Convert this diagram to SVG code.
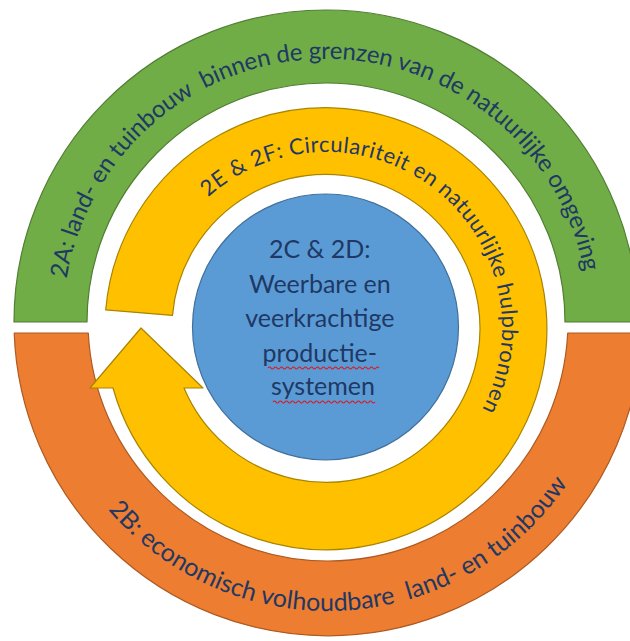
<svg xmlns="http://www.w3.org/2000/svg" width="630" height="641" viewBox="0 0 630 641">
<style>
.lbl{font-family:Lato,"Open Sans","Liberation Sans",sans-serif;fill:#1F3864;}
.ring{stroke-width:1.2;stroke-linejoin:round;}
.squig{fill:none;stroke:#E0191D;stroke-width:1.2;}
</style>
<defs>
<path id="pGreen" d="M66.6,278.6 A263,263 0 0 1 584.2,271.8"/>
<path id="pOrange" d="M108.2,509.7 A289,289 0 0 0 567.6,483.6"/>
<path id="pYellow" d="M208.2,197.2 A176,176 0 0 1 482.1,409.3"/>
</defs>
<rect width="630" height="641" fill="#FFFFFF"/>
<g id="ring-2A">
<path class="ring" d="M14,322 A312,312 0 0 1 638,322 L565,322 A239,239 0 0 0 87,322 Z" fill="#70AD47" stroke="#507E32"/>
<text class="lbl" font-size="24" xml:space="preserve"><textPath href="#pGreen" textLength="732" lengthAdjust="spacing">2A: land- en tuinbouw  binnen de grenzen van de natuurlijke omgeving</textPath></text>
</g>
<g id="ring-2B">
<path class="ring" d="M14.2,333 L88.3,333 A240,240 0 0 0 567.7,333 L641.8,333 A314,314 0 0 1 14.2,333 Z" fill="#ED7D31" stroke="#AE5A21"/>
<text class="lbl" font-size="25" xml:space="preserve"><textPath href="#pOrange" textLength="532" lengthAdjust="spacing">2B: economisch volhoudbare  land- en tuinbouw</textPath></text>
</g>
<g id="arrow-2E2F">
<path class="ring" d="M105.7,309.9 A221,221 0 1 1 113,388 L90,388 L141,328 L203,388 L184,388 A154,154 0 1 0 172.5,315.4 Z" fill="#FFC000" stroke="#A88400"/>
<text class="lbl" font-size="22"><textPath href="#pYellow" textLength="490" lengthAdjust="spacing">2E &amp; 2F: Circulariteit en natuurlijke hulpbronnen</textPath></text>
</g>
<g id="core-2C2D">
<circle cx="325.5" cy="327" r="133" fill="#5B9BD5" stroke="#41719C" stroke-width="1.2"/>
<text class="lbl" font-size="25" text-anchor="middle">
<tspan x="323" y="258">2C &amp; 2D:</tspan>
<tspan x="323" y="293">Weerbare en</tspan>
<tspan x="323" y="327">veerkrachtige</tspan>
<tspan x="323" y="362">productie-</tspan>
<tspan x="323" y="395">systemen</tspan>
</text>
<path class="squig" d="M268,368 q1.5,-2 3,0 t3,0 t3,0 t3,0 t3,0 t3,0 t3,0 t3,0 t3,0 t3,0 t3,0 t3,0 t3,0 t3,0 t3,0 t3,0 t3,0 t3,0 t3,0 t3,0 t3,0 t3,0 t3,0 t3,0 t3,0 t3,0 t3,0 t3,0 t3,0 t3,0 t3,0 t3,0 t3,0 t3,0 t3,0 t3,0 t3,0"/>
<path class="squig" d="M273,402 q1.5,-2 3,0 t3,0 t3,0 t3,0 t3,0 t3,0 t3,0 t3,0 t3,0 t3,0 t3,0 t3,0 t3,0 t3,0 t3,0 t3,0 t3,0 t3,0 t3,0 t3,0 t3,0 t3,0 t3,0 t3,0 t3,0 t3,0 t3,0 t3,0 t3,0 t3,0 t3,0 t3,0 t3,0 t3,0"/>
</g>
</svg>
